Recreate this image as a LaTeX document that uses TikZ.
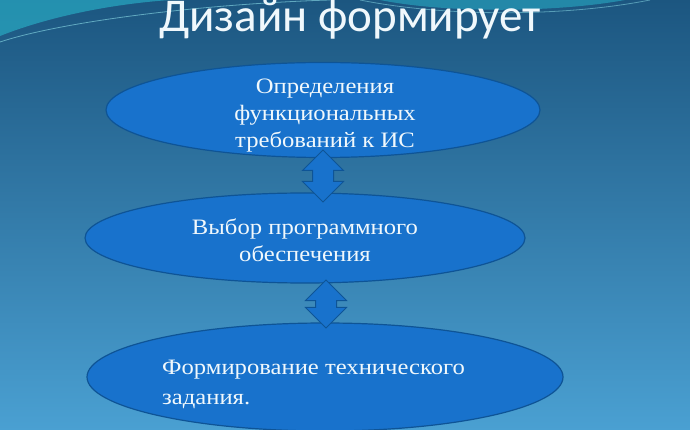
\documentclass[tikz,border=0pt]{standalone}
\usepackage{fontspec}
\setmainfont{Liberation Serif}[FakeStretch=1.12]
\newfontfamily\titlefont{Carlito}
\usetikzlibrary{shapes.geometric,shapes.arrows,positioning}
\definecolor{bgtop}{RGB}{28,86,128}
\definecolor{bgmid}{RGB}{44,124,176}
\definecolor{bgbot}{RGB}{74,160,210}
\definecolor{ellfill}{RGB}{24,114,204}
\definecolor{elledge}{RGB}{14,84,150}
\definecolor{wave}{RGB}{40,170,195}
\definecolor{txt}{RGB}{240,248,252}
\tikzstyle{every node}=[text=txt]
\tikzstyle{stage}=[ellipse,draw=elledge,fill=ellfill,line width=1.2pt,inner sep=0pt]
\tikzstyle{stagetext}=[inner sep=0pt,font=\fontsize{22}{27}\selectfont]
\tikzstyle{link}=[double arrow,shape border rotate=90,draw=elledge,fill=ellfill,line width=1pt,
  inner sep=10pt,minimum width=40pt,double arrow head extend=10pt,double arrow tip angle=90]

\begin{document}
\begin{tikzpicture}[x=1pt,y=-1pt]
  \useasboundingbox (0,0) rectangle (690,430);
  \shade[top color=bgtop,middle color=bgmid,bottom color=bgbot] (0,0) rectangle (690,430);
  % waves at the top
  \fill[wave,opacity=0.7] (0,0) -- (0,36) .. controls (40,20) and (100,5) .. (170,0) -- cycle;
  \draw[wave!60!white,opacity=0.7,line width=0.8pt] (0,42) .. controls (60,22) and (200,4) .. (330,0);
  \fill[wave,opacity=0.6] (380,0) .. controls (450,14) and (560,12) .. (625,0) -- cycle;
  \draw[wave!60!white,opacity=0.6,line width=0.8pt] (360,0) .. controls (450,18) and (570,16) .. (650,0);

  \node[anchor=base] (title) at (350,32) {\titlefont\fontsize{47}{47}\selectfont Дизайн формирует};

  \node[stage,minimum width=434pt,minimum height=95pt] (req) at (323,110) {};
  \node[stage,minimum width=440pt,minimum height=90pt] (soft) at (305,238) {};
  \node[stage,minimum width=476pt,minimum height=108pt] (spec) at (325,377) {};

  \node[stagetext,align=center] (reqtext) at (325,116) {Определения\\функциональных\\требований к ИС};
  \node[stagetext,align=center] (softtext) at (305,240) {Выбор программного\\обеспечения};
  \node[stagetext,align=left,anchor=west,font=\fontsize{22}{30}\selectfont] (spectext) at (162,384)
    {Формирование технического\\задания.};

  \node[link,minimum height=52pt] (l1) at (323,176) {};
  \node[link,minimum height=48pt] (l2) at (326,304) {};
\end{tikzpicture}
\end{document}
